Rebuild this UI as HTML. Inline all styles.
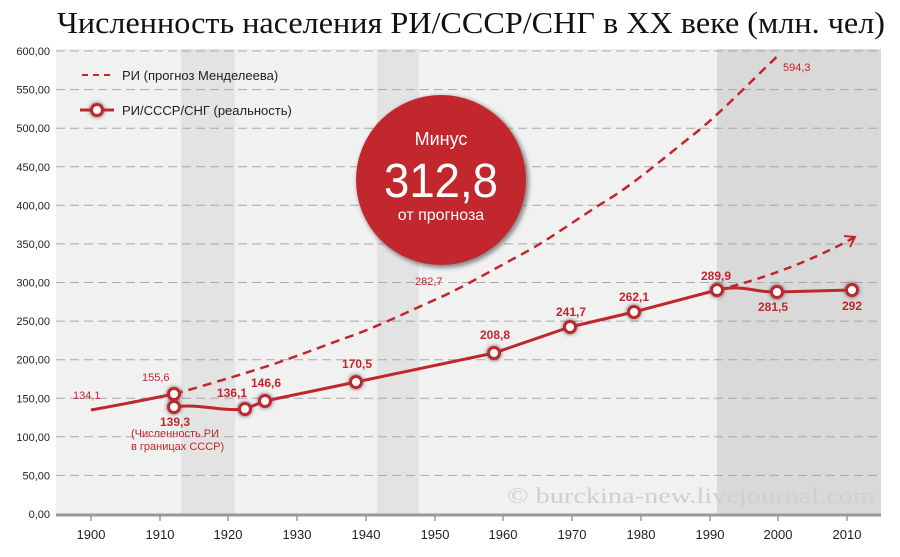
<!DOCTYPE html>
<html><head><meta charset="utf-8"><style>
body{margin:0;background:#fff;width:900px;height:552px;overflow:hidden}
svg text{font-family:"Liberation Sans","DejaVu Sans",sans-serif}
</style></head><body>
<svg width="900" height="552" viewBox="0 0 900 552" xmlns="http://www.w3.org/2000/svg">
<defs>
<filter id="sh" x="-50%" y="-50%" width="200%" height="200%"><feGaussianBlur stdDeviation="2"/></filter>
</defs>
<text x="57" y="33" textLength="828" lengthAdjust="spacingAndGlyphs" style="font-family:'Liberation Serif',serif" font-size="31" fill="#111">Численность населения РИ/СССР/СНГ в XX веке (млн. чел)</text>
<rect x="56" y="49" width="825" height="465" fill="#f1f1f1"/>
<rect x="181" y="49" width="54" height="465" fill="#e3e3e3"/>
<rect x="377" y="49" width="42" height="465" fill="#e3e3e3"/>
<rect x="717" y="49" width="164" height="465" fill="#d9d9d9"/>
<g stroke="#a8a8a8" stroke-width="1" stroke-dasharray="9,5">
<line x1="56" x2="881" y1="51" y2="51"/><line x1="56" x2="881" y1="89.6" y2="89.6"/><line x1="56" x2="881" y1="128.2" y2="128.2"/><line x1="56" x2="881" y1="166.8" y2="166.8"/><line x1="56" x2="881" y1="205.3" y2="205.3"/><line x1="56" x2="881" y1="243.9" y2="243.9"/><line x1="56" x2="881" y1="282.5" y2="282.5"/><line x1="56" x2="881" y1="321.1" y2="321.1"/><line x1="56" x2="881" y1="359.7" y2="359.7"/><line x1="56" x2="881" y1="398.3" y2="398.3"/><line x1="56" x2="881" y1="436.8" y2="436.8"/><line x1="56" x2="881" y1="475.4" y2="475.4"/>
</g>
<line x1="56" x2="881" y1="515" y2="515" stroke="#999" stroke-width="3"/>
<g stroke="#999" stroke-width="1.5">
<line x1="91" x2="91" y1="516" y2="521"/><line x1="160" x2="160" y1="516" y2="521"/><line x1="228" x2="228" y1="516" y2="521"/><line x1="297" x2="297" y1="516" y2="521"/><line x1="366" x2="366" y1="516" y2="521"/><line x1="435" x2="435" y1="516" y2="521"/><line x1="503" x2="503" y1="516" y2="521"/><line x1="572" x2="572" y1="516" y2="521"/><line x1="641" x2="641" y1="516" y2="521"/><line x1="710" x2="710" y1="516" y2="521"/><line x1="778" x2="778" y1="516" y2="521"/><line x1="847" x2="847" y1="516" y2="521"/>
</g>
<g font-size="13" fill="#222" text-anchor="middle">
<text x="91" y="539">1900</text><text x="160" y="539">1910</text><text x="228" y="539">1920</text><text x="297" y="539">1930</text><text x="366" y="539">1940</text><text x="435" y="539">1950</text><text x="503" y="539">1960</text><text x="572" y="539">1970</text><text x="641" y="539">1980</text><text x="710" y="539">1990</text><text x="778" y="539">2000</text><text x="847" y="539">2010</text>
</g>
<g font-size="11" fill="#222" text-anchor="end">
<text x="50" y="55">600,00</text><text x="50" y="93.6">550,00</text><text x="50" y="132.2">500,00</text><text x="50" y="170.8">450,00</text><text x="50" y="209.3">400,00</text><text x="50" y="247.9">350,00</text><text x="50" y="286.5">300,00</text><text x="50" y="325.1">250,00</text><text x="50" y="363.7">200,00</text><text x="50" y="402.3">150,00</text><text x="50" y="440.8">100,00</text><text x="50" y="479.4">50,00</text><text x="50" y="518">0,00</text>
</g>
<text x="507" y="503" textLength="368" lengthAdjust="spacingAndGlyphs" style="font-family:'Liberation Serif',serif" font-size="22" fill="#cfcfcf">© burckina-new.livejournal.com</text>
<!-- legend -->
<line x1="82" x2="112" y1="75" y2="75" stroke="#c0272d" stroke-width="2" stroke-dasharray="6,5"/>
<text x="122" y="80" font-size="13" fill="#222">РИ (прогноз Менделеева)</text>
<line x1="80" x2="114" y1="110" y2="110" stroke="#c0272d" stroke-width="3"/>
<circle cx="97" cy="110" r="7" fill="#555" filter="url(#sh)"/>
<circle cx="97" cy="110" r="5.5" fill="#fff" stroke="#c0272d" stroke-width="3"/>
<text x="122" y="115" font-size="13" fill="#222">РИ/СССР/СНГ (реальность)</text>
<!-- forecast -->
<path d="M91,410 Q130,403 174,394" fill="none" stroke="#c0272d" stroke-width="3"/>
<path d="M174,394 C203,386 233,377 262.8,367.6 S320,347 348.4,337 S405,313 434.7,299.9 S492,270 520.6,254.9 S578,218 606.5,200.6 S665,157 693.1,134.9 S752,80 778.3,55.4" fill="none" stroke="#c0272d" stroke-width="2.5" stroke-dasharray="9,6"/>
<path d="M717,290 C760,280 810,262 855,237" fill="none" stroke="#c0272d" stroke-width="2.5" stroke-dasharray="8,6"/>
<path d="M844,236 L855,237 L850,247" fill="none" stroke="#c0272d" stroke-width="2"/>
<!-- real -->
<path d="M174,407 C200,403 220,412 245,409 L265,401 L356,382 L494,353 L570,327 L634,312 L717,290 C745,284 755,293 777,292 L852,290" fill="none" stroke="#c0272d" stroke-width="3"/>
<g>
<g fill="#555" filter="url(#sh)"><circle cx="174" cy="394" r="7"/><circle cx="174" cy="407" r="7"/><circle cx="245" cy="409" r="7"/><circle cx="265" cy="401" r="7"/><circle cx="356" cy="382" r="7"/><circle cx="494" cy="353" r="7"/><circle cx="570" cy="327" r="7"/><circle cx="634" cy="312" r="7"/><circle cx="717" cy="290" r="7"/><circle cx="777" cy="292" r="7"/><circle cx="852" cy="290" r="7"/></g>
<g fill="#fff" stroke="#c0272d" stroke-width="3"><circle cx="174" cy="394" r="5.5"/><circle cx="174" cy="407" r="5.5"/><circle cx="245" cy="409" r="5.5"/><circle cx="265" cy="401" r="5.5"/><circle cx="356" cy="382" r="5.5"/><circle cx="494" cy="353" r="5.5"/><circle cx="570" cy="327" r="5.5"/><circle cx="634" cy="312" r="5.5"/><circle cx="717" cy="290" r="5.5"/><circle cx="777" cy="292" r="5.5"/><circle cx="852" cy="290" r="5.5"/></g>
</g>
<g font-size="11" fill="#c0272d">
<text x="73" y="399">134,1</text><text x="142" y="381">155,6</text><text x="415" y="285">282,7</text><text x="783" y="71">594,3</text>
<text x="131" y="437">(Численность РИ</text><text x="131" y="450">в границах СССР)</text>
</g>
<g font-size="12" font-weight="bold" fill="#c0272d" text-anchor="middle">
<text x="175" y="426">139,3</text><text x="232" y="397">136,1</text><text x="266" y="387">146,6</text><text x="357" y="368">170,5</text><text x="495" y="339">208,8</text><text x="571" y="316">241,7</text><text x="634" y="301">262,1</text><text x="716" y="280">289,9</text><text x="773" y="311">281,5</text><text x="852" y="310">292</text>
</g>
<!-- circle badge -->
<circle cx="443" cy="182" r="86" fill="#444" filter="url(#sh)" opacity="0.6"/>
<circle cx="441" cy="180" r="85" fill="#c1272d"/>
<text x="441" y="145" text-anchor="middle" font-size="18" fill="#fff">Минус</text>
<text x="441" y="197" text-anchor="middle" font-size="48" textLength="114" lengthAdjust="spacingAndGlyphs" fill="#fff">312,8</text>
<text x="441" y="220" text-anchor="middle" font-size="16" fill="#fff">от прогноза</text>
</svg>
</body></html>
